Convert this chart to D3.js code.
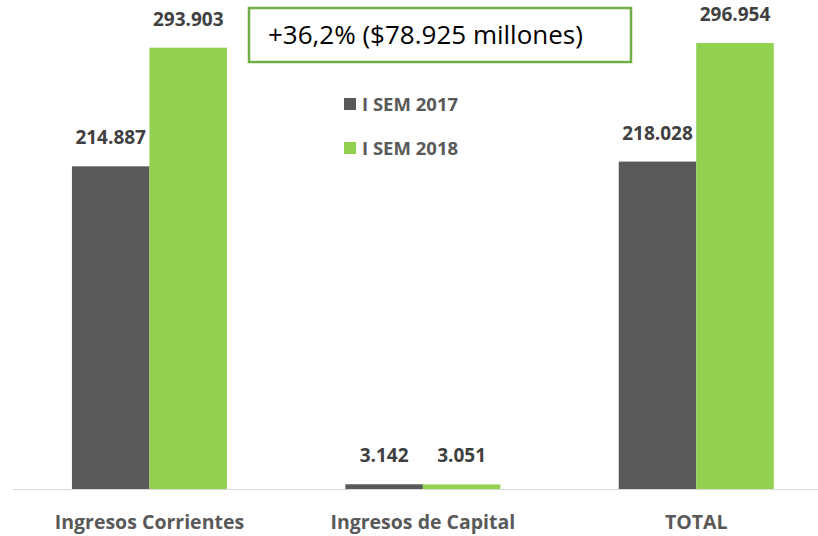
<!DOCTYPE html>
<html>
<head>
<meta charset="utf-8">
<script src="https://cdn.jsdelivr.net/npm/d3@7"></script>
<style>
	body { margin: 0; background: #fff; }
	svg { display: block; font-family: 'Open Sans', sans-serif; }
</style>
</head>
<body>
<div id="chart"></div>
<script>
const categories = ['Ingresos Corrientes', 'Ingresos de Capital', 'TOTAL']
const seriesNames = ['I SEM 2017', 'I SEM 2018']
const sem2017 = [214.887, 3.142, 218.028]
const sem2018 = [293.903, 3.051, 296.954]
const colors = ['#595959', '#92d050']
const note = '+36,2% ($78.925 millones)'

const width = 818
const height = 536

const svg = d3.select('#chart')
	.append('svg')
	.attr('width', width)
	.attr('height', height)

const x0 = d3.scaleBand()
	.domain(categories)
	.range([12.7, 833])
	.paddingInner(0.433)
	.paddingOuter(0.2167)

const x1 = d3.scaleBand()
	.domain(seriesNames)
	.range([0, x0.bandwidth()])

const y = d3.scaleLinear()
	.domain([0, 300])
	.range([489, 38.5])

const fmt = v => v.toFixed(3)

const rows = categories.map((c, i) => ({
	cat: c,
	values: [sem2017[i], sem2018[i]]
}))

// axis line
svg.append('line')
	.attr('x1', 13)
	.attr('x2', width)
	.attr('y1', y(0) + 0.5)
	.attr('y2', y(0) + 0.5)
	.attr('stroke', '#d9d9d9')
	.attr('stroke-width', 1.2)

const groups = svg.selectAll('.grp')
	.data(rows)
	.enter()
	.append('g')
	.attr('class', 'grp')
	.attr('transform', d => `translate(${x0(d.cat)},0)`)

groups.selectAll('rect')
	.data(d => d.values.map((v, i) => ({ key: seriesNames[i], v, i })))
	.enter()
	.append('rect')
	.attr('x', d => x1(d.key))
	.attr('width', x1.bandwidth())
	.attr('y', d => y(d.v))
	.attr('height', d => y(0) - y(d.v))
	.attr('fill', d => colors[d.i])

groups.selectAll('.val')
	.data(d => d.values.map((v, i) => ({ key: seriesNames[i], v, i })))
	.enter()
	.append('text')
	.attr('class', 'val')
	.attr('x', d => x1(d.key) + x1.bandwidth() / 2)
	.attr('y', d => y(d.v) - 22)
	.attr('text-anchor', 'middle')
	.attr('font-size', 19)
	.attr('font-weight', 'bold')
	.attr('fill', '#404040')
	.text(d => fmt(d.v))

// category labels
svg.selectAll('.cat')
	.data(categories)
	.enter()
	.append('text')
	.attr('class', 'cat')
	.attr('x', d => x0(d) + x0.bandwidth() / 2)
	.attr('y', 529)
	.attr('text-anchor', 'middle')
	.attr('font-size', 19.5)
	.attr('font-weight', 'bold')
	.attr('fill', '#595959')
	.text(d => d)

// legend
const legend = svg.selectAll('.leg')
	.data(seriesNames)
	.enter()
	.append('g')
	.attr('class', 'leg')
	.attr('transform', (d, i) => `translate(344,${98 + i * 44})`)

legend.append('rect')
	.attr('width', 12)
	.attr('height', 12)
	.attr('fill', (d, i) => colors[i])

legend.append('text')
	.attr('x', 18)
	.attr('y', 13)
	.attr('font-size', 18.5)
	.attr('font-weight', 'bold')
	.attr('fill', '#595959')
	.text(d => d)

// annotation box
svg.append('rect')
	.attr('x', 249)
	.attr('y', 8)
	.attr('width', 382)
	.attr('height', 54)
	.attr('fill', '#fff')
	.attr('stroke', '#70ad47')
	.attr('stroke-width', 2.5)

svg.append('text')
	.attr('x', 268)
	.attr('y', 44)
	.attr('font-size', 26)
	.attr('fill', '#000')
	.text(note)
</script>
</body>
</html>
